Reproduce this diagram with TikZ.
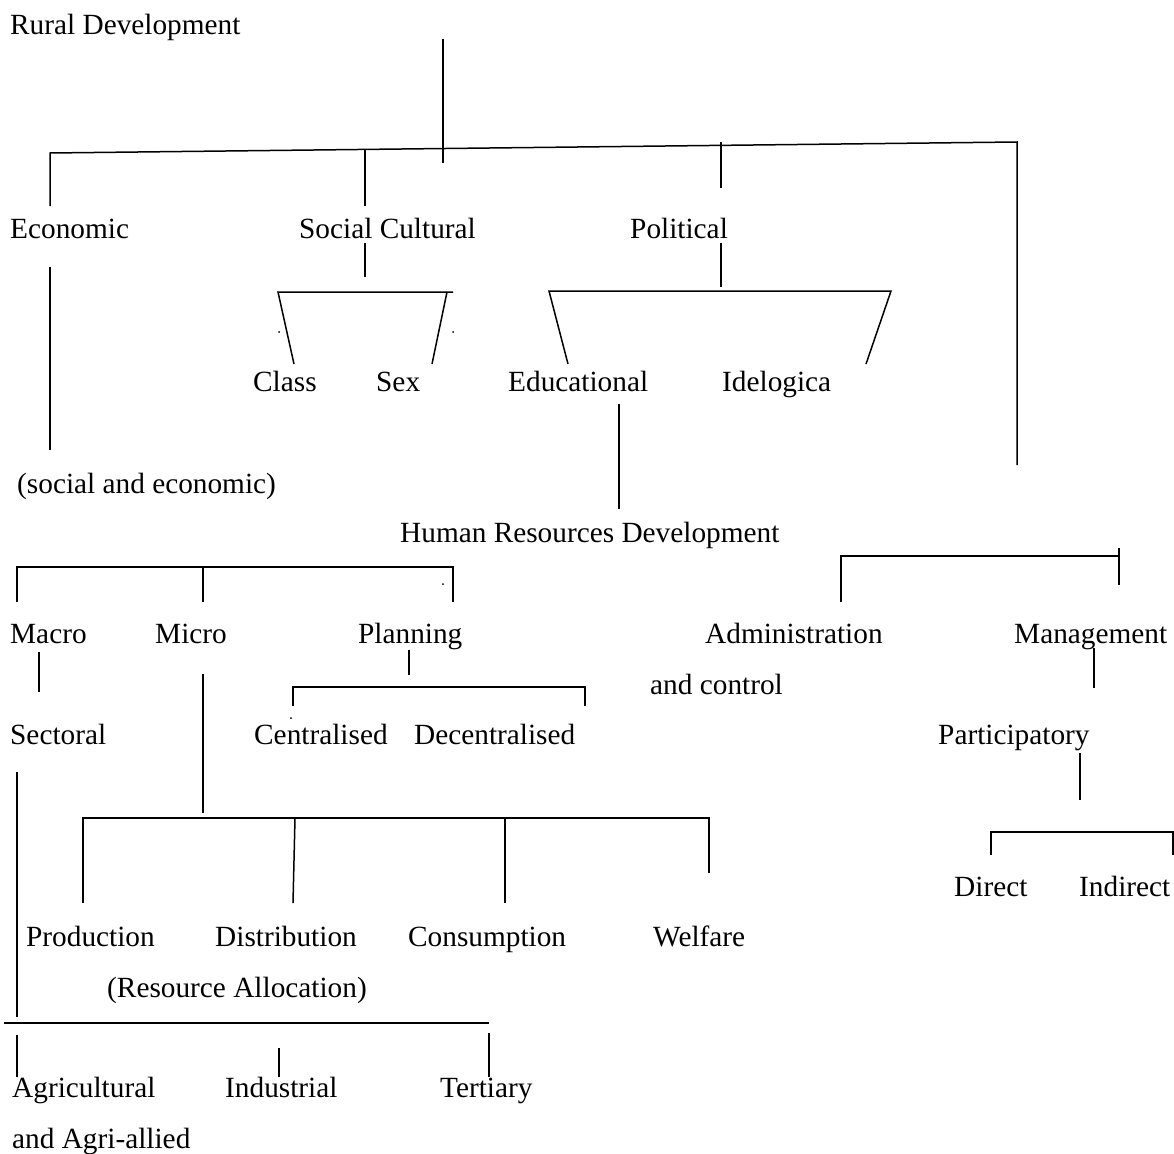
\documentclass[tikz,border=0pt]{standalone}
\usepackage{fontspec}
\setmainfont{Liberation Serif}
\begin{document}
\begin{tikzpicture}[x=1pt,y=-1pt,
  lbl/.style={anchor=base west, inner sep=0pt, font=\fontsize{29.3}{34}\selectfont},
  ln/.style={line width=1.5pt, line cap=butt, line join=miter},
  dotmark/.style={fill, circle, inner sep=0pt, minimum size=2pt}]
\useasboundingbox (0,0) rectangle (1174,1153);
% ---- labels ----
\node[lbl] (rd) at (10,35) {Rural Development};
\node[lbl] (eco) at (10,238) {Economic};
\node[lbl] (soc) at (299,238) {Social Cultural};
\node[lbl] (pol) at (630,238) {Political};
\node[lbl] (cls) at (253,391) {Class};
\node[lbl] (sex) at (376,391) {Sex};
\node[lbl] (edu) at (508,391) {Educational};
\node[lbl] (ide) at (722,391) {Idelogica};
\node[lbl] (sae) at (17,493) {(social and economic)};
\node[lbl] (hrd) at (400,542) {Human Resources Development};
\node[lbl] (mac) at (10,643) {Macro};
\node[lbl] (mic) at (155,643) {Micro};
\node[lbl] (pla) at (358,643) {Planning};
\node[lbl] (adm) at (705,643) {Administration};
\node[lbl] (man) at (1014,643) {Management};
\node[lbl] (anc) at (650,694) {and control};
\node[lbl] (sec) at (10,744) {Sectoral};
\node[lbl] (cen) at (254,744) {Centralised};
\node[lbl] (dec) at (414,744) {Decentralised};
\node[lbl] (par) at (938,744) {Participatory};
\node[lbl] (dir) at (954,896) {Direct};
\node[lbl] (ind) at (1079,896) {Indirect};
\node[lbl] (pro) at (26,946) {Production};
\node[lbl] (dis) at (215,946) {Distribution};
\node[lbl] (con) at (408,946) {Consumption};
\node[lbl] (wel) at (653,946) {Welfare};
\node[lbl] (rea) at (107,997) {(Resource Allocation)};
\node[lbl] (agr) at (12,1097) {Agricultural};
\node[lbl] (inu) at (225,1097) {Industrial};
\node[lbl] (ter) at (440,1097) {Tertiary};
\node[lbl] (aga) at (12,1148) {and Agri-allied};
% ---- coordinates ----
\coordinate (tA) at (443,39);   \coordinate (tB) at (443,163);
\coordinate (hL) at (50,153);   \coordinate (hR) at (1017,142);
\coordinate (ecA) at (50,206);  \coordinate (rvB) at (1017,465);
\coordinate (scA) at (365,150); \coordinate (scB) at (365,206);
\coordinate (plA) at (721,142); \coordinate (plB) at (721,188);
\coordinate (evA) at (50,267);  \coordinate (evB) at (50,450);
% social cultural
\coordinate (s1) at (365,243);  \coordinate (s2) at (365,277);
\coordinate (sbL) at (278,292); \coordinate (sbR) at (453,292);
\coordinate (sbR2) at (447,292);
\coordinate (slB) at (294,364); \coordinate (srB) at (432,364);
\node[dotmark] (d1) at (279,332) {};
\node[dotmark] (d2) at (453,332) {};
% political
\coordinate (p1) at (721,243);  \coordinate (p2) at (721,287);
\coordinate (pbL) at (549,291); \coordinate (pbR) at (891,291);
\coordinate (plLB) at (568,364); \coordinate (plRB) at (866,364);
% educational
\coordinate (e1) at (619,404);  \coordinate (e2) at (619,509);
% HRD bracket
\coordinate (hbL) at (17,567);  \coordinate (hbR) at (453,567);
\coordinate (hbM) at (203,567);
\coordinate (hlB) at (17,602);  \coordinate (hmB) at (203,602); \coordinate (hrB) at (453,602);
\node[dotmark] (d3) at (443,584) {};
% macro / micro / planning
\coordinate (ma1) at (39,652);  \coordinate (ma2) at (39,692);
\coordinate (mi1) at (203,674); \coordinate (mi2) at (203,813);
\coordinate (pn1) at (409,650); \coordinate (pn2) at (409,675);
\coordinate (pbrL) at (293,687); \coordinate (pbrR) at (585,687);
\coordinate (pbrLB) at (293,706); \coordinate (pbrRB) at (585,706);
\node[dotmark] (d4) at (291,718) {};
% admin / management
\coordinate (amL) at (841,556); \coordinate (amR) at (1119,556);
\coordinate (amLB) at (841,602);
\coordinate (amRT) at (1119,548); \coordinate (amRB) at (1119,585);
\coordinate (mg1) at (1094,648); \coordinate (mg2) at (1094,688);
\coordinate (pa1) at (1080,753); \coordinate (pa2) at (1080,800);
\coordinate (dbL) at (991,832); \coordinate (dbR) at (1173,832);
\coordinate (dbLB) at (991,855); \coordinate (dbRB) at (1173,855);
% micro bracket
\coordinate (mbL) at (83,818);  \coordinate (mbR) at (709,818);
\coordinate (mb2) at (295,818); \coordinate (mb3) at (505,818);
\coordinate (mbLB) at (83,903); \coordinate (mb2B) at (293,903);
\coordinate (mb3B) at (505,903); \coordinate (mbRB) at (709,873);
% sectoral
\coordinate (sc1) at (17,772);  \coordinate (sc2) at (17,1017);
\coordinate (shL) at (4,1023);  \coordinate (shR) at (489,1023);
\coordinate (ag1) at (17,1035); \coordinate (ag2) at (17,1077);
\coordinate (in1) at (279,1048); \coordinate (in2) at (279,1077);
\coordinate (te1) at (489,1033); \coordinate (te2) at (489,1077);
% ---- lines ----
\draw[ln] (tA) -- (tB);
\draw[ln] (ecA) -- (hL) -- (hR) -- (rvB);
\draw[ln] (scA) -- (scB);
\draw[ln] (plA) -- (plB);
\draw[ln] (evA) -- (evB);
\draw[ln] (s1) -- (s2);
\draw[ln] (slB) -- (sbL) -- (sbR);
\draw[ln] (sbR2) -- (srB);
\draw[ln] (p1) -- (p2);
\draw[ln] (plLB) -- (pbL) -- (pbR) -- (plRB);
\draw[ln] (e1) -- (e2);
\draw[ln] (hlB) -- (hbL) -- (hbR) -- (hrB);
\draw[ln] (hbM) -- (hmB);
\draw[ln] (ma1) -- (ma2);
\draw[ln] (mi1) -- (mi2);
\draw[ln] (pn1) -- (pn2);
\draw[ln] (pbrLB) -- (pbrL) -- (pbrR) -- (pbrRB);
\draw[ln] (amLB) -- (amL) -- (amR);
\draw[ln] (amRT) -- (amRB);
\draw[ln] (mg1) -- (mg2);
\draw[ln] (pa1) -- (pa2);
\draw[ln] (dbLB) -- (dbL) -- (dbR) -- (dbRB);
\draw[ln] (mbLB) -- (mbL) -- (mbR) -- (mbRB);
\draw[ln] (mb2) -- (mb2B);
\draw[ln] (mb3) -- (mb3B);
\draw[ln] (sc1) -- (sc2);
\draw[ln] (shL) -- (shR);
\draw[ln] (ag1) -- (ag2);
\draw[ln] (in1) -- (in2);
\draw[ln] (te1) -- (te2);
\end{tikzpicture}
\end{document}
